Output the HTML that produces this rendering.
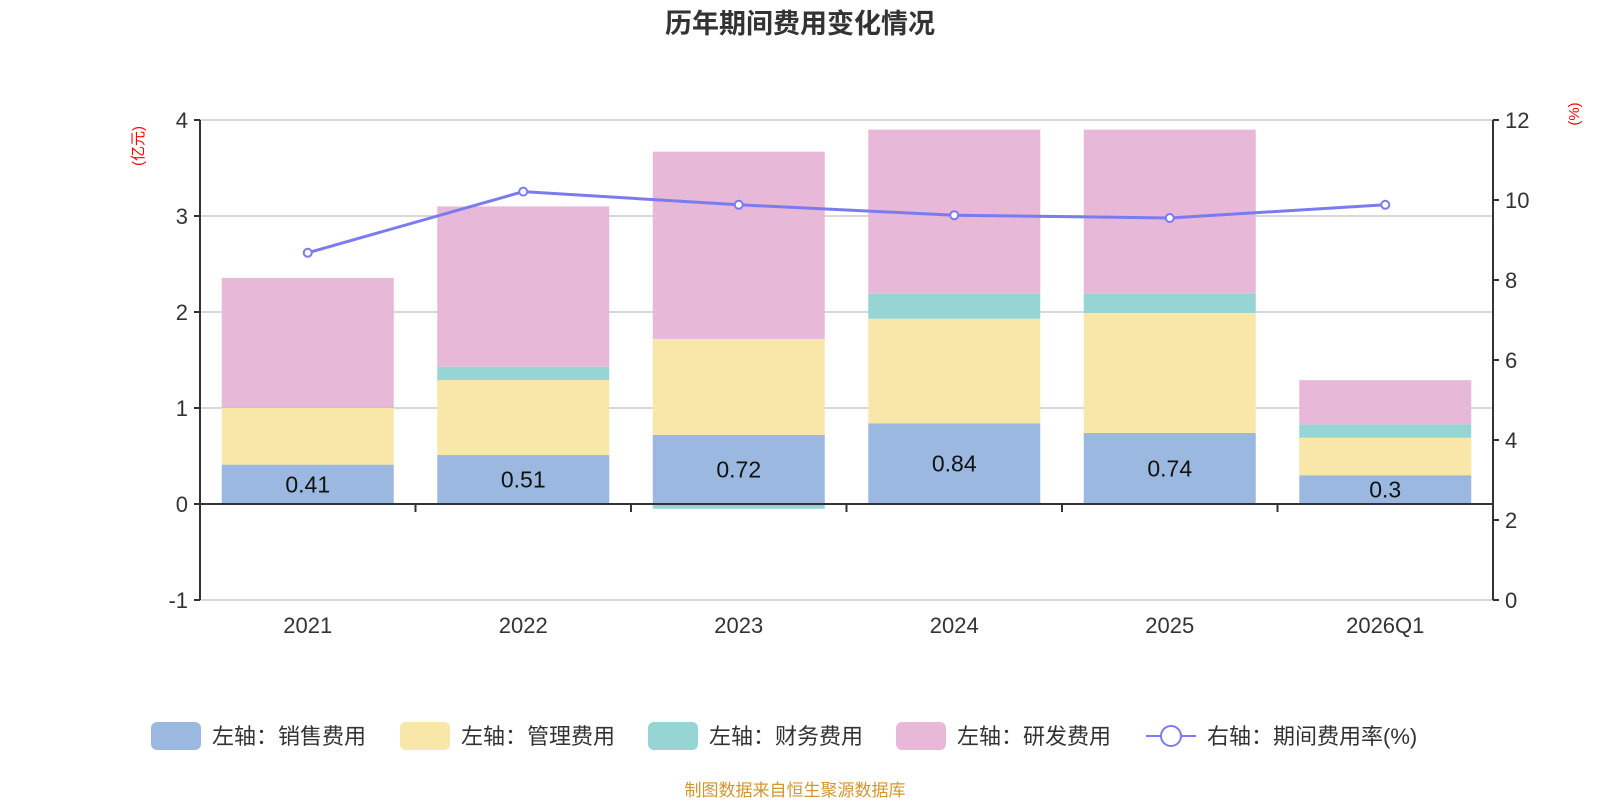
<!DOCTYPE html>
<html><head><meta charset="utf-8"><style>
body{margin:0;background:#fff;}
svg text{font-family:"Liberation Sans","Noto Sans CJK SC",sans-serif;}
</style></head><body>
<svg id="chart" width="1600" height="800" xmlns="http://www.w3.org/2000/svg">
<text x="800" y="33" text-anchor="middle" font-size="27" font-weight="bold" fill="#333">历年期间费用变化情况</text>
<text transform="translate(143,146) rotate(-90)" text-anchor="middle" font-size="15" fill="#f00">(亿元)</text>
<text transform="translate(1579,114) rotate(-90)" text-anchor="middle" font-size="15" fill="#f00">(%)</text>
<g id="grid"></g><g id="bars"></g><g id="axes"></g><g id="line"></g><g id="labels"></g>
<g id="legend"></g>
<text x="795" y="796" text-anchor="middle" font-size="17" fill="#d4962c">制图数据来自恒生聚源数据库</text>
</svg>
<script>
const categories=["2021","2022","2023","2024","2025","2026Q1"];
const sales=[0.41,0.51,0.72,0.84,0.74,0.30];
const mgmt=[0.59,0.78,1.00,1.09,1.25,0.39];
const fin=[0.005,0.14,-0.05,0.26,0.20,0.14];
const rnd=[1.35,1.67,1.95,1.71,1.71,0.46];
const rate=[8.68,10.21,9.88,9.62,9.55,9.88];
const leftTicks=[4,3,2,1,0,-1];
const rightTicks=[12,10,8,6,4,2,0];

const NS="http://www.w3.org/2000/svg";
const X0=200,X1=1493,YT=120,YB=600;
const yL=v=>504-v*96;
const yR=v=>YB-(v/12)*(YB-YT);
const bw=(X1-X0)/categories.length;
const xc=i=>X0+bw*(i+0.5);
function mk(tag,attrs,parent){const e=document.createElementNS(NS,tag);for(const k in attrs)e.setAttribute(k,attrs[k]);parent.appendChild(e);return e;}
const grid=document.getElementById('grid'),bars=document.getElementById('bars'),axes=document.getElementById('axes'),line=document.getElementById('line'),labels=document.getElementById('labels'),legend=document.getElementById('legend');

leftTicks.forEach(t=>{
  const y=yL(t);
  if(t!==0){const g=mk('line',{x1:X0,x2:X1,y1:y,y2:y,stroke:'#ccc','stroke-width':1.5},grid);
  
  }
  mk('line',{x1:X0-6,x2:X0,y1:y,y2:y,stroke:'#333','stroke-width':2},axes);
  const tx=mk('text',{x:X0-12,y:y+8,'text-anchor':'end','font-size':22,fill:'#333'},axes);
  tx.textContent=t;
  
  
});
rightTicks.forEach(t=>{
  const y=yR(t);
  mk('line',{x1:X1,x2:X1+6,y1:y,y2:y,stroke:'#333','stroke-width':2},axes);
  const tx=mk('text',{x:X1+12,y:y+8,'font-size':22,fill:'#333'},axes);
  tx.textContent=t;
  
  
});
mk('line',{x1:X0,x2:X0,y1:YT,y2:YB,stroke:'#333','stroke-width':2},axes);
mk('line',{x1:X1,x2:X1,y1:YT,y2:YB,stroke:'#333','stroke-width':2},axes);
mk('line',{x1:X0,x2:X1,y1:yL(0),y2:yL(0),stroke:'#333','stroke-width':2},axes);
for(let i=1;i<categories.length;i++){const x=X0+bw*i;mk('line',{x1:x,x2:x,y1:yL(0),y2:yL(0)+8,stroke:'#333','stroke-width':2},axes);}

const series=[[sales,'#9bb8e0','sales'],[mgmt,'#f8e7a8','mgmt'],[fin,'#97d4d4','finance'],[rnd,'#e7b8d8','rnd']];
categories.forEach((c,i)=>{
  let pos=0,neg=0;const w=172;
  series.forEach(([arr,col,nm])=>{
    const v=arr[i];let y0,y1;
    if(v>=0){y0=pos;y1=pos+v;pos=y1;}else{y0=neg+v;y1=neg;neg=y0;}
    const r=mk('rect',{x:xc(i)-w/2,y:yL(y1),width:w,height:Math.max(0.5,yL(y0)-yL(y1)),fill:col},bars);
    
    
  });
  const lb=mk('text',{x:xc(i),y:yL(sales[i]/2)+8,'text-anchor':'middle','font-size':23,fill:'#111'},labels);
  lb.textContent=sales[i];
  
  
  const xl=mk('text',{x:xc(i),y:633,'text-anchor':'middle','font-size':22,fill:'#333'},axes);
  xl.textContent=c;
  
  
});
const pl=mk('polyline',{points:rate.map((v,i)=>xc(i)+','+yR(v)).join(' '),fill:'none',stroke:'#7b7bf0','stroke-width':3},line);


rate.forEach((v,i)=>{
  const p=mk('circle',{cx:xc(i),cy:yR(v),r:4,fill:'#fff',stroke:'#7b7bf0','stroke-width':2},line);
  
  
});
const legItems=[[151,'#9bb8e0','左轴：销售费用'],[400,'#f8e7a8','左轴：管理费用'],[648,'#97d4d4','左轴：财务费用'],[896,'#e7b8d8','左轴：研发费用']];
legItems.forEach(([x,col,t])=>{
  const g=mk('g',{},legend);
  
  
  mk('rect',{x:x,y:722,width:50,height:28,rx:6,fill:col},g);
  const tx=mk('text',{x:x+61,y:744,'font-size':22,fill:'#333'},g);tx.textContent=t;
});
const lg=mk('g',{},legend);


mk('line',{x1:1146,x2:1196,y1:736,y2:736,stroke:'#7b7bf0','stroke-width':2},lg);
mk('circle',{cx:1171,cy:736,r:10,fill:'#fff',stroke:'#7b7bf0','stroke-width':2},lg);
const lt=mk('text',{x:1207,y:744,'font-size':22,fill:'#333'},lg);lt.textContent='右轴：期间费用率(%)';
</script>
</body></html>
